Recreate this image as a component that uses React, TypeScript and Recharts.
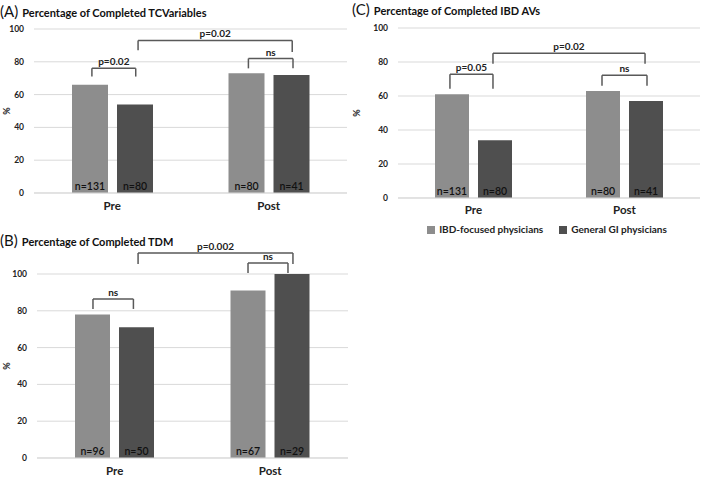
import { BarChart, Bar, XAxis, YAxis, CartesianGrid, ReferenceLine, LabelList, Legend } from "recharts"

const groups = ["Pre", "Post"]
const seriesNames = ["IBD-focused physicians", "General GI physicians"]

// (A) TC variables
const tcIbd = [66, 73]
const tcGi = [54, 72]
const tcIbdN = [131, 80]
const tcGiN = [80, 41]

// (B) TDM
const tdmIbd = [78, 91]
const tdmGi = [71, 100]
const tdmIbdN = [96, 67]
const tdmGiN = [50, 29]

// (C) IBD AVs
const avIbd = [61, 63]
const avGi = [34, 57]
const avIbdN = [131, 80]
const avGiN = [80, 41]

const yTicks = [0, 20, 40, 60, 80, 100]

// brackets: x on a 0..2 group scale, y in %
type Bracket = { x1: number; x2: number; y: number; leg1: number; leg2: number; text: string }

const tcBrackets: Bracket[] = [
  { x1: 0.37, x2: 0.65, y: 76, leg1: 71, leg2: 71, text: "p=0.02" },
  { x1: 0.665, x2: 1.65, y: 93, leg1: 87, leg2: 86, text: "p=0.02" },
  { x1: 1.37, x2: 1.655, y: 82, leg1: 76, leg2: 76, text: "ns" },
]
const tdmBrackets: Bracket[] = [
  { x1: 0.36, x2: 0.62, y: 86.4, leg1: 81, leg2: 81, text: "ns" },
  { x1: 0.65, x2: 1.646, y: 111.4, leg1: 105.4, leg2: 105.4, text: "p=0.002" },
  { x1: 1.357, x2: 1.614, y: 106, leg1: 100.5, leg2: 100.5, text: "ns" },
]
const avBrackets: Bracket[] = [
  { x1: 0.344, x2: 0.629, y: 72.8, leg1: 64.2, leg2: 64.2, text: "p=0.05" },
  { x1: 0.629, x2: 1.636, y: 85.2, leg1: 79, leg2: 79, text: "p=0.02" },
  { x1: 1.351, x2: 1.649, y: 72.2, leg1: 66, leg2: 66, text: "ns" },
]

const FONT = "Lato, 'Open Sans', sans-serif"
const LIGHT = "#8d8d8d"
const DARK = "#4f4f4f"
const INK = "#595959"

function buildRows(ibd: number[], gi: number[], ibdN: number[], giN: number[]) {
  return groups.map((g, i) => ({
    group: g,
    pos: i + 0.5,
    ibd: ibd[i],
    gi: gi[i],
    ibdN: `n=${ibdN[i]}`,
    giN: `n=${giN[i]}`,
  }))
}

function bracketLines(b: Bracket, k: number) {
  const common = { xAxisId: "n", ifOverflow: "visible" as const, stroke: INK, strokeWidth: 1.5 }
  return [
    <ReferenceLine
      key={`t${k}`}
      {...common}
      segment={[{ x: b.x1, y: b.y }, { x: b.x2, y: b.y }]}
      label={{ value: b.text, position: "top", offset: 3, fill: "#222", fontSize: 10, fontWeight: 700, fontFamily: FONT }}
    />,
    <ReferenceLine key={`l${k}`} {...common} segment={[{ x: b.x1, y: b.y }, { x: b.x1, y: b.leg1 }]} />,
    <ReferenceLine key={`r${k}`} {...common} segment={[{ x: b.x2, y: b.y }, { x: b.x2, y: b.leg2 }]} />,
  ]
}

type PanelProps = {
  rows: ReturnType<typeof buildRows>
  brackets: Bracket[]
  width: number
  height: number
  margin: { top: number; right: number; bottom: number; left: number }
  yWidth: number
  xHeight: number
  barSize: number
  catMargin: number
  legend?: boolean
}

const nLabelStyle = { fill: "#111", fontSize: 10.5, fontWeight: 600, fontFamily: FONT }

function Panel({ rows, brackets, width, height, margin, yWidth, xHeight, barSize, catMargin, legend }: PanelProps) {
  return (
    <BarChart width={width} height={height} data={rows} margin={margin} barGap={9} barSize={barSize}>
      <CartesianGrid vertical={false} stroke="#d9d9d9" />
      <XAxis
        dataKey="group"
        height={xHeight}
        tickLine={false}
        axisLine={{ stroke: "#d9d9d9" }}
        tickSize={0}
        tickMargin={catMargin}
        tick={{ fill: "#222", fontSize: 11.5, fontWeight: 700, fontFamily: FONT }}
      />
      <XAxis xAxisId="n" dataKey="pos" type="number" domain={[0, 2]} hide allowDataOverflow />
      <YAxis
        width={yWidth}
        domain={[0, 100]}
        ticks={yTicks}
        interval={0}
        axisLine={false}
        tickLine={false}
        tickSize={0}
        tickMargin={10}
        tick={{ fill: "#222", fontSize: 8.5, fontWeight: 700, fontFamily: FONT }}
        label={{ value: "%", angle: -90, position: "insideLeft", offset: 7, fill: "#222", fontSize: 9, fontWeight: 700, fontFamily: FONT, style: { textAnchor: "middle" } }}
      />
      {legend && (
        <Legend
          verticalAlign="bottom"
          align="center"
          iconType="square"
          iconSize={8}
          itemSorter={(item: any) => (item.dataKey === "ibd" ? 0 : 1)}
          wrapperStyle={{ fontFamily: FONT, fontSize: 10, fontWeight: 700, paddingLeft: 30 }}
          formatter={(v: string) => <span style={{ color: "#222", marginRight: 6 }}>{v}</span>}
        />
      )}
      <Bar dataKey="ibd" name={seriesNames[0]} fill={LIGHT} isAnimationActive={false}>
        <LabelList dataKey="ibdN" position="insideBottom" offset={3} fill="#111" style={nLabelStyle} />
      </Bar>
      <Bar dataKey="gi" name={seriesNames[1]} fill={DARK} isAnimationActive={false}>
        <LabelList dataKey="giN" position="insideBottom" offset={3} fill="#111" style={nLabelStyle} />
      </Bar>
      {brackets.flatMap((b, k) => bracketLines(b, k))}
    </BarChart>
  )
}

function Title({ letter, text, left, top }: { letter: string; text: string; left: number; top: number }) {
  return (
    <div style={{ position: "absolute", left, top, fontFamily: FONT, color: "#111", whiteSpace: "nowrap", lineHeight: 1 }}>
      <span style={{ fontSize: 15 }}>{letter}</span>{" "}
      <span style={{ fontSize: 11, fontWeight: 700 }}>{text}</span>
    </div>
  )
}

export default function App() {
  const tcRows = buildRows(tcIbd, tcGi, tcIbdN, tcGiN)
  const tdmRows = buildRows(tdmIbd, tdmGi, tdmIbdN, tdmGiN)
  const avRows = buildRows(avIbd, avGi, avIbdN, avGiN)

  return (
    <div style={{ position: "absolute", left: 0, top: 0, width: 702, height: 478, background: "#fff", overflow: "hidden" }}>
      <div style={{ position: "absolute", left: 0, top: 0 }}>
        <Panel
          rows={tcRows}
          brackets={tcBrackets}
          width={350}
          height={228}
          margin={{ top: 29, right: 3, bottom: 5, left: 0 }}
          yWidth={34}
          xHeight={30}
          barSize={36}
          catMargin={9}
        />
      </div>
      <div style={{ position: "absolute", left: 0, top: 230 }}>
        <Panel
          rows={tdmRows}
          brackets={tdmBrackets}
          width={350}
          height={248}
          margin={{ top: 44, right: 2, bottom: 0, left: 0 }}
          yWidth={37}
          xHeight={20}
          barSize={35}
          catMargin={9}
        />
      </div>
      <div style={{ position: "absolute", left: 350, top: 0 }}>
        <Panel
          rows={avRows}
          brackets={avBrackets}
          width={352}
          height={240}
          margin={{ top: 28, right: 2, bottom: 5, left: 0 }}
          yWidth={48}
          xHeight={25}
          barSize={34}
          catMargin={8}
          legend
        />
      </div>
      <Title letter="(A)" text="Percentage of Completed TCVariables" left={0} top={3} />
      <Title letter="(B)" text="Percentage of Completed TDM" left={0} top={232} />
      <Title letter="(C)" text="Percentage of Completed IBD AVs" left={352} top={1} />
    </div>
  )
}
